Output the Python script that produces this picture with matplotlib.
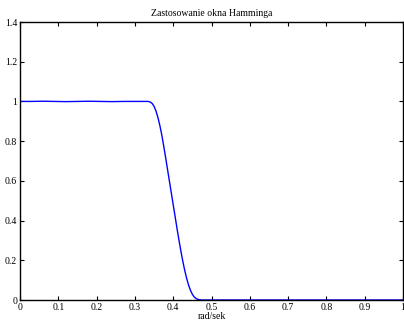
import matplotlib
matplotlib.use("Agg")
import matplotlib.pyplot as plt
from matplotlib.ticker import FuncFormatter

freq = [0.0, 0.03, 0.06, 0.09, 0.12, 0.15, 0.18, 0.21, 0.24, 0.27, 0.30, 0.32, 0.335,
        0.34, 0.345, 0.35, 0.355, 0.36, 0.365, 0.37, 0.375, 0.38, 0.385,
        0.39, 0.395, 0.40, 0.405, 0.41, 0.415, 0.42, 0.425, 0.43, 0.435, 0.44, 0.445,
        0.45, 0.455, 0.46, 0.465, 0.47, 0.475, 0.48, 0.50, 0.55, 0.60, 0.65, 0.70,
        0.75, 0.80, 0.85, 0.90, 0.95, 1.0]
mag = [1.000, 1.000, 1.001, 1.000, 0.999, 1.000, 1.001, 1.000, 0.999, 1.000, 1.000, 1.000, 1.000,
       0.997, 0.99, 0.975, 0.952, 0.92, 0.88, 0.833, 0.778, 0.72, 0.66,
       0.60, 0.54, 0.48, 0.42, 0.36, 0.302, 0.247, 0.196, 0.150, 0.110, 0.076, 0.049,
       0.029, 0.015, 0.007, 0.003, 0.001, 0.0, 0.0, 0.0, 0.0, 0.0, 0.0, 0.0,
       0.0, 0.0, 0.0, 0.0, 0.0, 0.0]

xticks = [0, 0.1, 0.2, 0.3, 0.4, 0.5, 0.6, 0.7, 0.8, 0.9, 1]
yticks = [0, 0.2, 0.4, 0.6, 0.8, 1, 1.2, 1.4]

plt.rcParams['font.family'] = ['Liberation Serif', 'DejaVu Serif']
plt.rcParams['font.size'] = 7

fig = plt.figure(figsize=(4.04, 3.22), dpi=100)
ax = fig.add_axes([20/404, 22/322, 383/404, 278/322])
ax.plot(freq, mag, color='#0000ff', linewidth=1.0, solid_joinstyle='round')
ax.set_xlim(0, 1)
ax.set_ylim(0, 1.4)
ax.set_xticks(xticks)
ax.set_yticks(yticks)
fmt = FuncFormatter(lambda v, p: '%g' % v)
ax.xaxis.set_major_formatter(fmt)
ax.yaxis.set_major_formatter(fmt)
ax.tick_params(direction='in', top=True, right=True, length=3, width=0.8, labelsize=7, pad=2)
for s in ax.spines.values():
    s.set_linewidth(1.0)
ax.set_title('Zastosowanie okna Hamminga', fontsize=7, pad=4)
ax.set_xlabel('rad/sek', fontsize=7, labelpad=0)
fig.savefig('out.png', dpi=100)
